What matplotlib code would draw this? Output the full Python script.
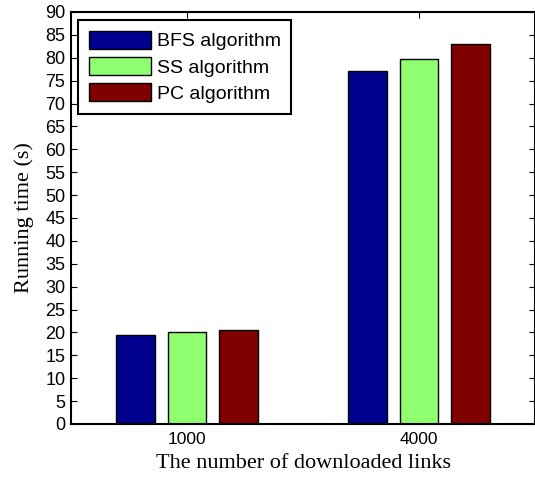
import matplotlib
matplotlib.use("Agg")
import matplotlib.pyplot as plt
import numpy as np

# Running time (seconds) per algorithm for each link count
link_counts = ["1000", "4000"]
algorithms = ["BFS algorithm", "SS algorithm", "PC algorithm"]
bfs_times = [19.5, 77.2]
ss_times = [20.2, 79.7]
pc_times = [20.5, 83.1]
y_ticks = list(range(0, 91, 5))

colors = ["#00008F", "#8FFF70", "#800000"]
series = [bfs_times, ss_times, pc_times]

plt.rcParams["font.family"] = ["Liberation Sans", "DejaVu Sans"]

fig = plt.figure(figsize=(5.35, 4.84), dpi=100)
ax = fig.add_axes([71 / 535, 60 / 484, 464 / 535, 412 / 484])

x = np.arange(1, len(link_counts) + 1)
bar_w = 0.168
offset = 0.223
for i, (vals, col, name) in enumerate(zip(series, colors, algorithms)):
    ax.bar(x + (i - 1) * offset, vals, width=bar_w, color=col,
           edgecolor="black", linewidth=1.0, label=name, zorder=2)

ax.set_xlim(0.5, 2.5)
ax.set_ylim(0, 90)
ax.set_xticks(x)
ax.set_xticklabels(link_counts)
ax.set_yticks(y_ticks)

ax.tick_params(direction="in", top=True, right=True, length=4.5, width=0.8,
               pad=4, labelsize=13)
ax.tick_params(axis="x", pad=5.5, labelsize=12.5)
for s in ax.spines.values():
    s.set_linewidth(1.5)

ax.set_xlabel("The number of downloaded links", family="Liberation Serif",
              fontsize=16, labelpad=5)
ax.set_ylabel("Running time (s)", family="Liberation Serif", fontsize=16,
              labelpad=8)

leg = ax.legend(loc="upper left", bbox_to_anchor=(0.015, 0.981),
                prop=dict(family="Liberation Sans", size=14),
                fancybox=False, framealpha=1, edgecolor="black",
                handlelength=3.2, handleheight=1.08, handletextpad=0.3,
                borderpad=0.55, labelspacing=0.33, borderaxespad=0)
leg.get_frame().set_linewidth(1.5)

fig.savefig("out.png", dpi=100)
